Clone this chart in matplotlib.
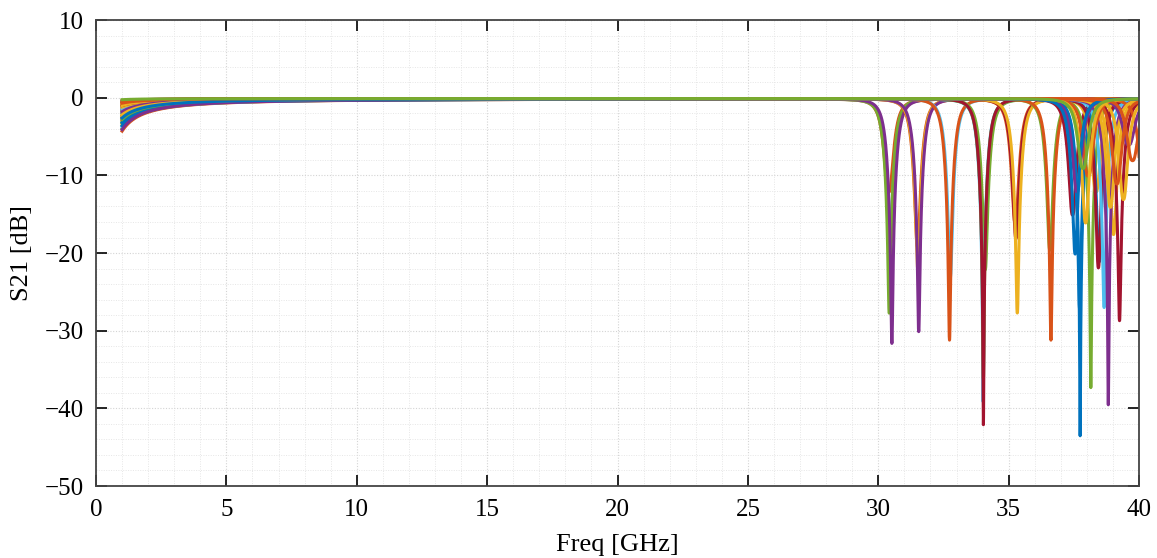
import numpy as np
import matplotlib
matplotlib.use("Agg")
import matplotlib.pyplot as plt
from matplotlib.ticker import MultipleLocator

# MATLAB default colour order
C_BLUE = "#0072BD"
C_ORANGE = "#D95319"
C_YELLOW = "#EDB120"
C_PURPLE = "#7E2F8E"
C_GREEN = "#77AC30"
C_LBLUE = "#4DBEEE"
C_DRED = "#A2142F"

# one entry per curve: colour, notch frequency [GHz], notch depth [dB], loss at 1 GHz [dB]
curve_colors = [
    C_ORANGE, C_LBLUE, C_YELLOW, C_GREEN, C_PURPLE,
    C_ORANGE, C_YELLOW, C_PURPLE,
    C_LBLUE, C_ORANGE,
    C_GREEN, C_LBLUE, C_GREEN, C_DRED,
    C_ORANGE, C_DRED, C_YELLOW,
    C_GREEN, C_ORANGE,
    C_DRED, C_BLUE, C_BLUE,
    C_GREEN, C_YELLOW, C_BLUE, C_DRED,
    C_LBLUE, C_YELLOW, C_PURPLE, C_DRED, C_ORANGE,
    C_YELLOW, C_ORANGE, C_PURPLE,
    C_YELLOW, C_ORANGE, C_PURPLE, C_YELLOW, C_BLUE, C_ORANGE,
    C_GREEN,
]
notch_freq = [
    30.40, 30.45, 30.48, 30.42, 30.52,
    31.50, 31.52, 31.55,
    32.76, 32.73,
    34.10, 34.02, 34.03, 34.03,
    35.25, 35.28, 35.33,
    36.58, 36.62,
    37.45, 37.72, 37.74,
    38.15, 38.35, 38.47, 38.44,
    38.66, 39.02, 38.82, 39.25, 40.20,
    38.90, 38.05, 39.60,
    39.40, 39.15, 37.62, 37.95, 37.55, 39.75,
    37.85,
]
notch_depth = [
    -12.0, -16.0, -18.5, -27.6, -31.5,
    -19.0, -22.0, -30.0,
    -23.0, -31.1,
    -22.0, -39.0, -36.0, -42.0,
    -16.0, -18.0, -27.6,
    -19.5, -31.1,
    -15.0, -27.0, -43.4,
    -37.2, -12.0, -21.0, -21.8,
    -26.9, -17.5, -39.4, -28.6, -30.0,
    -14.0, -10.0, -6.0,
    -13.0, -11.0, -12.0, -16.0, -20.0, -8.0,
    -9.0,
]
start_loss = [
    4.2, 3.8, 3.4, 3.0, 2.6,
    2.2, 1.8, 1.5,
    1.2, 1.0,
    3.9, 3.6, 3.2, 0.8,
    2.8, 2.4, 2.0,
    1.6, 1.3,
    1.0, 3.5, 3.1,
    2.7, 2.3, 1.9, 0.6,
    1.4, 1.1, 4.0, 0.9, 0.5,
    0.7, 0.4, 0.3,
    0.9, 0.6, 1.7, 2.1, 2.5, 0.3,
    0.15,
]

NOTCH_BW = 0.72
NOTCH_ORDER = 2.6
BASE = -0.1
freq = np.arange(1.0, 40.0001, 0.005)

plt.rcParams['font.family'] = ['Liberation Serif']
fig = plt.figure(figsize=(11.57, 5.58), dpi=100)
ax = fig.add_axes([0.083, 0.129, 0.9015, 0.835])

for col, f0, dep, sl in zip(curve_colors, notch_freq, notch_depth, start_loss):
    xn = np.abs(2 * (freq - f0)) ** NOTCH_ORDER
    bn = NOTCH_BW ** NOTCH_ORDER
    notch = 10 * np.log10((xn + bn * 10 ** (dep / 10)) / (xn + bn))
    low = -sl / freq ** 1.25
    y = BASE + low + notch
    ax.plot(freq, y, color=col, lw=2.2, solid_joinstyle="round")

ax.set_xlim(0, 40)
ax.set_ylim(-50, 10)
ax.xaxis.set_major_locator(MultipleLocator(5))
ax.xaxis.set_minor_locator(MultipleLocator(1))
ax.yaxis.set_major_locator(MultipleLocator(10))
ax.yaxis.set_minor_locator(MultipleLocator(2))
ax.grid(True, which="major", color="#d4d4d4", lw=0.8, ls=(0, (1, 1.5)))
ax.grid(True, which="minor", color="#e6e6e6", lw=0.7, ls=(0, (1, 1.5)))
ax.set_axisbelow(True)
ax.tick_params(which="major", direction="in", length=8, width=1.2, top=True, right=True,
               labelsize=18, pad=9)
ax.tick_params(which="minor", length=0)
ax.set_yticks([10, 0, -10, -20, -30, -40, -50])
ax.set_yticklabels(["10", "0", "\u221210", "\u221220", "\u221230", "\u221240", "\u221250"],
                   fontsize=18)
ax.set_xticks([0, 5, 10, 15, 20, 25, 30, 35, 40])
ax.set_xticklabels(["0", "5", "10", "15", "20", "25", "30", "35", "40"], fontsize=18)
for s in ax.spines.values():
    s.set_linewidth(1.3)
    s.set_color("#444444")
ax.set_xlabel("Freq [GHz]", fontsize=19, labelpad=10)
ax.set_ylabel("S21 [dB]", fontsize=19, labelpad=8)

fig.savefig("out.png", dpi=100)
